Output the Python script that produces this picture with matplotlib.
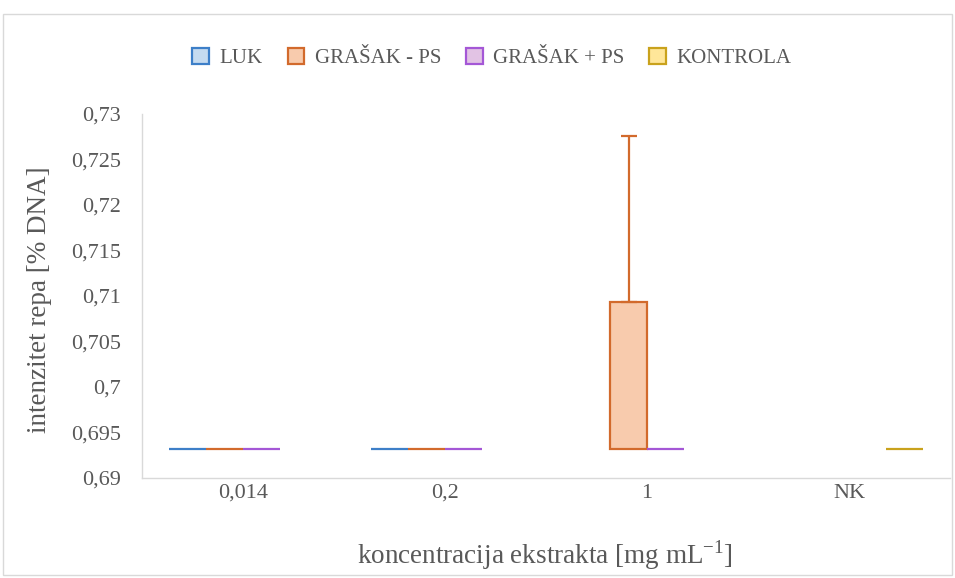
import matplotlib
matplotlib.use("Agg")
import matplotlib.pyplot as plt
import numpy as np
from matplotlib.patches import Rectangle, Patch
from matplotlib.ticker import FuncFormatter

categories = ["0,014", "0,2", "1", "NK"]
series_names = ["LUK", "GRAŠAK - PS", "GRAŠAK + PS", "KONTROLA"]
base_value = 0.6932
luk = [0.6932, 0.6932, np.nan, np.nan]
grasak_minus = [0.6932, 0.6932, 0.7093, np.nan]
grasak_plus = [0.6932, 0.6932, 0.6932, np.nan]
kontrola = [np.nan, np.nan, np.nan, 0.6932]
grasak_minus_err = [0.0, 0.0, 0.0183, 0.0]
y_ticks = [0.69, 0.695, 0.70, 0.705, 0.71, 0.715, 0.72, 0.725, 0.73]

faces = ["#c5dbf0", "#f8cbad", "#e2c3e4", "#ffe699"]
edges = ["#3d7fc8", "#d26a2c", "#a457d6", "#c9a21c"]
txt = "#595959"

plt.rcParams['font.family'] = ['Liberation Serif', 'DejaVu Serif']

fig = plt.figure(figsize=(9.55, 5.78), dpi=100)
ax = fig.add_axes([142/955, 1-478/578, 808/955, 364/578])

fig.patches.append(Rectangle((3/955, 3/578), 949/955, 561/578, transform=fig.transFigure,
                             fill=False, edgecolor="#d9d9d9", linewidth=1.0))

x = np.arange(len(categories))
w = 0.183
all_series = [luk, grasak_minus, grasak_plus, kontrola]
for i, vals in enumerate(all_series):
    vals = np.array(vals, dtype=float)
    offs = (i - 1.5) * w
    mask = ~np.isnan(vals)
    ax.bar(x[mask] + offs, vals[mask] - base_value, bottom=base_value, width=w,
           facecolor=faces[i], edgecolor=edges[i], linewidth=1.6, zorder=3)
    if i == 1:
        err = np.array(grasak_minus_err)
        m2 = mask & (err > 0)
        ax.errorbar(x[m2] + offs, vals[m2], yerr=[np.zeros(m2.sum()), err[m2]],
                    fmt="none", ecolor=edges[i], elinewidth=1.6, capsize=6,
                    capthick=1.6, zorder=4)

ax.set_xlim(-0.5, 3.5)
ax.set_ylim(0.69, 0.73)
ax.set_yticks(y_ticks)
ax.yaxis.set_major_formatter(FuncFormatter(lambda v, p: ("%g" % round(v, 3)).replace(".", ",")))
ax.set_xticks(x)
ax.set_xticklabels(categories)
ax.tick_params(axis="both", length=0, labelsize=16, colors=txt)
ax.tick_params(axis="y", pad=15)
ax.tick_params(axis="x", pad=4)
for s in ["top", "right"]:
    ax.spines[s].set_visible(False)
for s in ["left", "bottom"]:
    ax.spines[s].set_color("#d9d9d9")
    ax.spines[s].set_linewidth(1.0)

ax.set_ylabel("intenzitet repa [% DNA]", fontsize=19.5, color=txt)
ax.yaxis.set_label_coords(-0.112, 0.489)
ax.set_xlabel("koncentracija ekstrakta [mg mL$^{\\mathregular{-1}}$]", fontsize=19.5, color=txt)
ax.xaxis.set_label_coords(0.499, -0.165)

handles = [Patch(facecolor=faces[i], edgecolor=edges[i], linewidth=1.6) for i in range(4)]
fig.legend(handles, series_names, loc="center", bbox_to_anchor=(492/955, 1-58/578),
           ncol=4, frameon=False, fontsize=15, labelcolor=txt, handlelength=0.8,
           handleheight=0.8, handletextpad=0.5, columnspacing=1.2)

fig.savefig("out.png", dpi=100)
